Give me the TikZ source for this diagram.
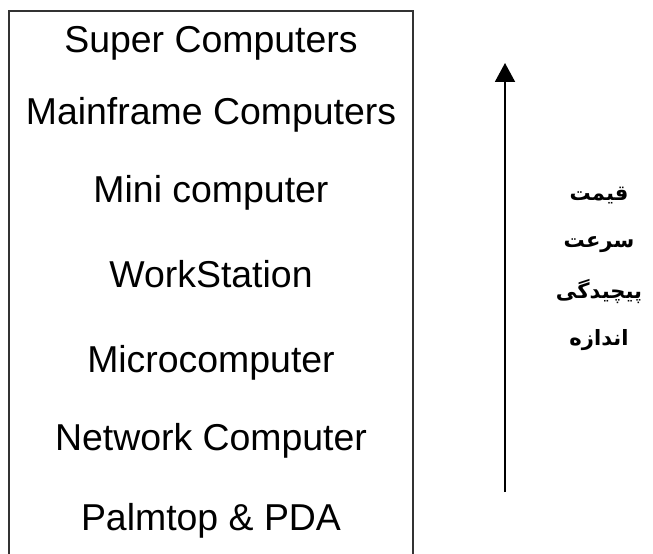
\documentclass[tikz,border=0pt]{standalone}
\usepackage{fontspec}
\setmainfont{Liberation Sans}
\newfontfamily\farsifont[Script=Arabic]{DejaVu Sans}
\TeXXeTstate=1
\usetikzlibrary{arrows.meta,positioning}

\begin{document}
\begin{tikzpicture}[
  x=0.02cm, y=-0.02cm,
  item/.style={anchor=base, inner sep=0pt, font=\fontsize{21.3}{25}\selectfont},
  fa/.style={anchor=base, inner sep=0pt, font=\farsifont\bfseries\fontsize{12}{14}\selectfont},
  frame/.style={draw=black!80, line width=1.2pt},
  arrow/.style={-{Triangle[width=0.4cm,length=0.38cm]}, line width=1.1pt}
]
\useasboundingbox (0,0) rectangle (653,554);

% open frame round the list
\draw[frame] (9,560) |- (413,11) -- (413,560);

\node[item] (super) at (211,53) {Super Computers};
\node[item] (mainframe) at (211,125) {Mainframe Computers};
\node[item] (mini) at (211,203) {Mini computer};
\node[item] (workstation) at (211,287) {WorkStation};
\node[item] (micro) at (211,372) {Microcomputer};
\node[item] (network) at (211,450) {Network Computer};
\node[item] (palmtop) at (211,530) {Palmtop \& PDA};

\coordinate (low) at (505,492);
\coordinate (high) at (505,63);
\draw[arrow] (low) -- (high);

\node[fa] (cost) at (599,200) {\beginR قیمت\endR};
\node[fa] (speed) at (599,248) {\beginR سرعت\endR};
\node[fa] (complexity) at (599,298) {\beginR پیچیدگی\endR};
\node[fa] (size) at (599,345) {\beginR اندازه\endR};

\end{tikzpicture}
\end{document}
